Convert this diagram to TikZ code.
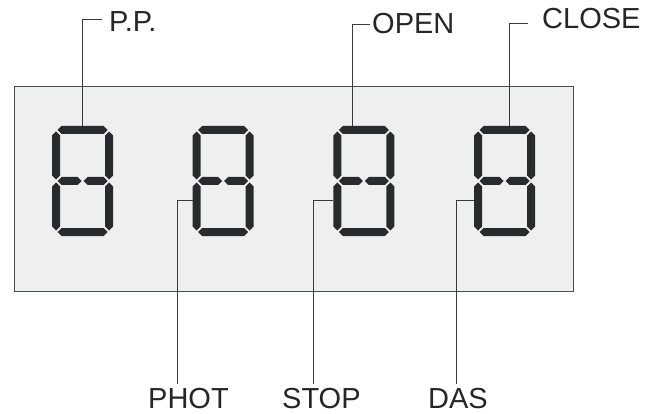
\documentclass[tikz,border=0pt]{standalone}
\usepackage{fontspec}
\setmainfont{Liberation Sans}
\definecolor{lcdseg}{HTML}{272B2D}
\definecolor{lcdpanel}{HTML}{EEEFEF}
\definecolor{leadgray}{HTML}{3A3A3A}
\newcommand\hseg[3]{\fill[lcdseg] (#1,#3) -- (#1+4,#3-4) -- (#2-4,#3-4) -- (#2,#3) -- (#2-4,#3+4) -- (#1+4,#3+4) -- cycle;}
\newcommand\vseg[3]{\fill[lcdseg] (#1,#2) -- (#1+4,#2+4) -- (#1+4,#3-4) -- (#1,#3) -- (#1-4,#3-4) -- (#1-4,#2+4) -- cycle;}

\begin{document}
\begin{tikzpicture}[x=1pt,y=-1pt,font=\fontsize{29}{34}\selectfont,tagtext/.style={inner sep=0pt,text=black!85,anchor=base west},lead/.style={draw=leadgray,line width=1pt},panel/.style={draw=black!70,line width=1pt,fill=lcdpanel},lcd/.pic={\hseg{5.5}{55.5}{4}\hseg{5.5}{29.5}{55}\hseg{31.5}{55.5}{55}\hseg{5.5}{55.5}{106}\vseg{4}{5.5}{53.5}\vseg{57}{5.5}{53.5}\vseg{4}{56.5}{104.5}\vseg{57}{56.5}{104.5}}]
\useasboundingbox[fill=white] (0,0) rectangle (650,414);
\draw[panel] (14,87) rectangle (573,291);
% labels above and below the display
\node[tagtext] (pp) at (109,32) {P.P.};
\node[tagtext] (open) at (372,34) {OPEN};
\node[tagtext] (close) at (542,29) {CLOSE};
\node[tagtext] (phot) at (148,408) {PHOT};
\node[tagtext] (stop) at (282,408) {STOP};
\node[tagtext] (das) at (428,408) {DAS};
\coordinate (pp-pin) at (82,126);
\coordinate (open-pin) at (352,126);
\coordinate (close-pin) at (509,126);
\coordinate (phot-pin) at (193,200);
\coordinate (stop-pin) at (333,200);
\coordinate (das-pin) at (474,200);
\draw[lead] (pp-pin) |- ([xshift=-7,yshift=2.5]pp.west);
\draw[lead] (open-pin) |- ([xshift=-2]open.west);
\draw[lead] (close-pin) |- ([xshift=-14,yshift=-4]close.west);
\draw[lead] (phot-pin) -| ([xshift=-11,yshift=4]phot.north);
\draw[lead] (stop-pin) -| ([xshift=-7.5,yshift=4]stop.north);
\draw[lead] (das-pin) -| ([xshift=-2,yshift=4]das.north);
% the four digits
\pic at (52,126) {lcd};
\pic at (192.7,126) {lcd};
\pic at (333.3,126) {lcd};
\pic at (474,126) {lcd};
\end{tikzpicture}
\end{document}
